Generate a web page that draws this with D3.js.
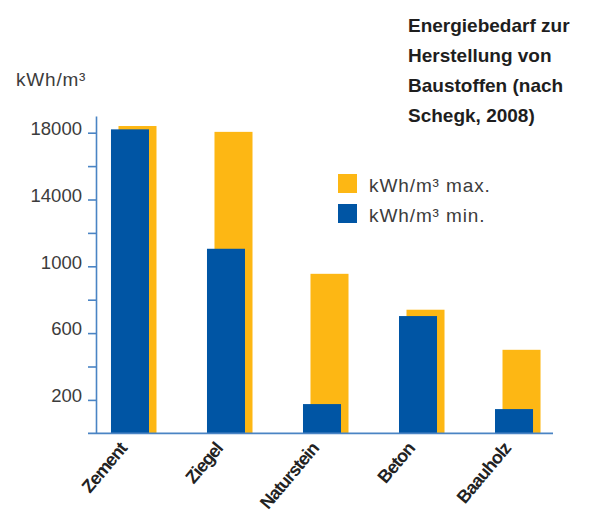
<!DOCTYPE html>
<html>
<head>
<meta charset="utf-8">
<script src="https://cdn.jsdelivr.net/npm/d3@7"></script>
<style>
    body { margin: 0; background: #fff; }
    svg { display: block; }
</style>
</head>
<body>
<svg id="svg"></svg>
<script>

// data
var categories = ["Zement", "Ziegel", "Naturstein", "Beton", "Baauholz"];
var valuesMax = [18400, 18050, 9550, 7400, 5000];
var valuesMin = [18200, 11050, 1750, 7020, 1450];

// the original axis labels are printed like this (typos included)
var tickValues = [2000, 4000, 6000, 8000, 10000, 12000, 14000, 16000, 18000];
var tickLabels = ["200", "", "600", "", "1000", "", "14000", "", "18000"];

var titleLines = ["Energiebedarf zur", "Herstellung von", "Baustoffen (nach", "Schegk, 2008)"];
var legendLabels = ["kWh/m\u00b3 max.", "kWh/m\u00b3 min."];

var width = 592;
var height = 515;

var colMax = "#fdb714";
var colMin = "#0055a4";
var colAxis = "#4a84c4";
var colText = "#3c3c3c";

var svg;
var x, y;

function initSVG(){
    svg = d3.select("#svg")
        .attr("width", width)
        .attr("height", height)
        .style("font-family", "'Liberation Sans', Arial, sans-serif");
}

function initScales(){
    x = d3.scaleBand()
        .domain(categories)
        .range([96, 548])
        .paddingInner(0.604)
        .paddingOuter(0.156);

    y = d3.scaleLinear()
        .domain([0, 19000])
        .range([433.3, 116]);
}

function drawBars(){
    var g = svg.append("g").attr("id", "bars");

    // orange (max) behind, shifted a bit to the right
    g.selectAll(".max")
        .data(categories)
        .enter().append("rect")
        .attr("class", "max")
        .attr("x", function(d){ return x(d) + 7.5; })
        .attr("y", function(d, i){ return y(valuesMax[i]); })
        .attr("width", x.bandwidth())
        .attr("height", function(d, i){ return y(0) - y(valuesMax[i]); })
        .attr("fill", colMax);

    g.selectAll(".min")
        .data(categories)
        .enter().append("rect")
        .attr("class", "min")
        .attr("x", function(d){ return x(d); })
        .attr("y", function(d, i){ return y(valuesMin[i]); })
        .attr("width", x.bandwidth())
        .attr("height", function(d, i){ return y(0) - y(valuesMin[i]); })
        .attr("fill", colMin);
}

function drawAxes(){
    var yAxis = d3.axisLeft(y)
        .tickValues(tickValues)
        .tickSize(8)
        .tickSizeOuter(0)
        .tickPadding(6)
        .tickFormat(function(d, i){ return tickLabels[i]; });

    var ga = svg.append("g")
        .attr("transform", "translate(96,0)")
        .call(yAxis);

    ga.select(".domain")
        .attr("stroke", colAxis)
        .attr("stroke-width", 1.6);
    ga.selectAll(".tick line")
        .attr("stroke", colAxis)
        .attr("stroke-width", 1.6);
    ga.selectAll(".tick text")
        .attr("fill", colText)
        .attr("dy", "0.1em")
        .style("font-size", "18.5px");

    // baseline
    svg.append("line")
        .attr("x1", 88)
        .attr("x2", 553)
        .attr("y1", y(0))
        .attr("y2", y(0))
        .attr("stroke", colAxis)
        .attr("stroke-width", 1.8);

    // category labels, rotated
    svg.append("g").selectAll("text")
        .data(categories)
        .enter().append("text")
        .attr("transform", function(d){
            var cx = x(d) + (x.bandwidth() + 7.5) / 2 - 6;
            return "translate(" + cx + ",449) rotate(-50)";
        })
        .attr("text-anchor", "end")
        .attr("fill", "#222")
        .style("font-size", "18px")
        .style("font-weight", "bold")
        .style("letter-spacing", "-0.9px")
        .text(function(d){ return d; });

    // unit label
    svg.append("text")
        .attr("x", 16)
        .attr("y", 86)
        .attr("fill", colText)
        .style("font-size", "19px")
        .style("letter-spacing", "0.8px")
        .text("kWh/m\u00b3");
}

function drawLegend(){
    var cols = [colMax, colMin];
    var lg = svg.append("g").attr("id", "legend");
    legendLabels.forEach(function(l, i){
        lg.append("rect")
            .attr("x", 338)
            .attr("y", 174 + i * 30)
            .attr("width", 19)
            .attr("height", 19)
            .attr("fill", cols[i]);
        lg.append("text")
            .attr("x", 369)
            .attr("y", 192 + i * 30)
            .attr("fill", colText)
            .style("font-size", "19px")
            .style("letter-spacing", "0.9px")
            .text(l);
    });
}

function drawTitle(){
    svg.append("g").selectAll("text")
        .data(titleLines)
        .enter().append("text")
        .attr("x", 408)
        .attr("y", function(d, i){ return 31.7 + i * 30; })
        .attr("fill", "#1e1e1e")
        .style("font-size", "19px")
        .style("font-weight", "bold")
        .text(function(d){ return d; });
}

function init(){
    initSVG();
    initScales();
    drawBars();
    drawAxes();
    drawLegend();
    drawTitle();
}

document.addEventListener("DOMContentLoaded", function(event) {
    init();
});

</script>
</body>
</html>
